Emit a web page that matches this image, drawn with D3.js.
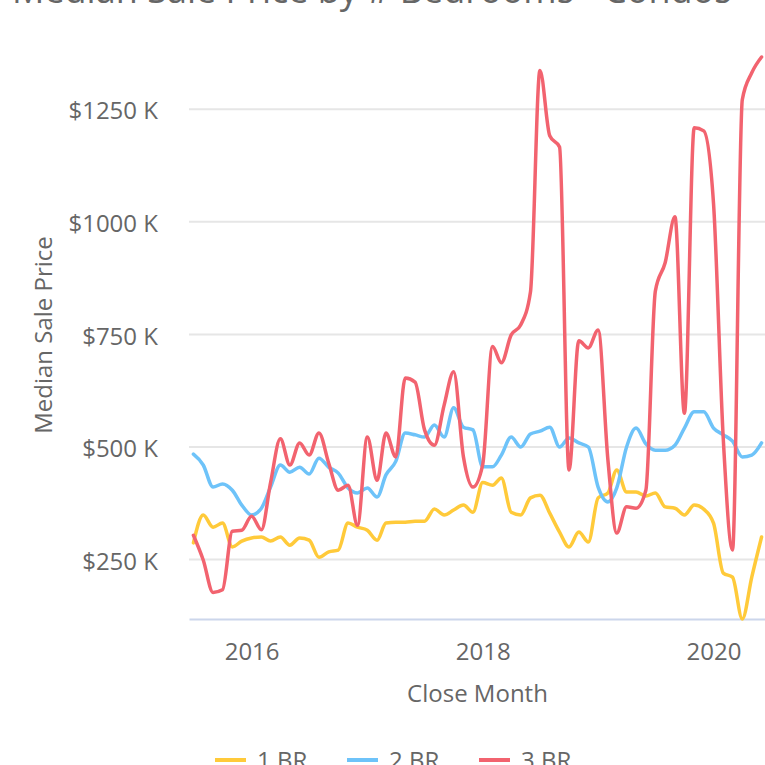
<!DOCTYPE html>
<html>
<head>
<meta charset="utf-8">
<script src="https://cdn.jsdelivr.net/npm/d3@7"></script>
<style>
    body { margin: 0; overflow: hidden; background: white; }
    text { font-family: "Open Sans", sans-serif; }
</style>
</head>
<body>
<svg id="chart"></svg>
<script>
//close months (first of month)
const MONTHS = [
    "2015-07", "2015-08", "2015-09", "2015-10", "2015-11", "2015-12",
    "2016-01", "2016-02", "2016-03", "2016-04", "2016-05", "2016-06",
    "2016-07", "2016-08", "2016-09", "2016-10", "2016-11", "2016-12",
    "2017-01", "2017-02", "2017-03", "2017-04", "2017-05", "2017-06",
    "2017-07", "2017-08", "2017-09", "2017-10", "2017-11", "2017-12",
    "2018-01", "2018-02", "2018-03", "2018-04", "2018-05", "2018-06",
    "2018-07", "2018-08", "2018-09", "2018-10", "2018-11", "2018-12",
    "2019-01", "2019-02", "2019-03", "2019-04", "2019-05", "2019-06",
    "2019-07", "2019-08", "2019-09", "2019-10", "2019-11", "2019-12",
    "2020-01", "2020-02", "2020-03", "2020-04", "2020-05", "2020-06"
];

//median sale price in $K
const ONE_BR = [
    286, 348, 321, 330, 277, 290,
    297, 299, 290, 299, 281, 297, 292, 254, 266, 270, 330, 321,
    314, 292, 330, 332, 332, 334, 334, 361, 348, 359, 370, 354,
    420, 414, 430, 354, 348, 386, 392, 352, 310, 277, 310, 288,
    386, 397, 448, 399, 399, 390, 397, 366, 363, 348, 370, 361,
    330, 219, 210, 117, 210, 299
];
const TWO_BR = [
    483, 459, 410, 417, 403, 370,
    348, 363, 410, 459, 443, 454, 439, 474, 454, 441, 408, 397,
    408, 388, 437, 467, 530, 526, 521, 548, 521, 586, 543, 537,
    455, 455, 481, 521, 499, 528, 534, 543, 499, 519, 508, 499,
    410, 377, 408, 499, 541, 506, 492, 492, 503, 541, 577, 577,
    541, 526, 512, 477, 481, 508
];
const THREE_BR = [
    303, 248, 176, 182, 312, 314,
    345, 315, 420, 517, 459, 508, 481, 530, 463, 403, 414, 325,
    521, 425, 530, 477, 652, 643, 537, 503, 592, 666, 477, 410,
    460, 722, 686, 748, 770, 843, 1335, 1190, 1165, 448, 735, 719,
    759, 470, 308, 366, 363, 403, 845, 908, 1010, 574, 1208, 1201,
    1040, 515, 270, 1270, 1330, 1365
];

const SERIES_NAMES = ["1 BR", "2 BR", "3 BR"];
const SERIES_COLORS = ["#ffca3a", "#6ec3f9", "#f2636f"];
const Y_TICKS = [250, 500, 750, 1000, 1250];
const X_TICKS = ["2016-01", "2018-01", "2020-01"];

const parseMonth = d3.utcParse("%Y-%m");

function drawChart() {
    const width = 765;
    const height = 765;
    const plot = { left: 189, right: 766, top: 57, bottom: 619 };

    const dates = MONTHS.map(parseMonth);
    const seriesValues = [ONE_BR, TWO_BR, THREE_BR];
    const series = SERIES_NAMES.map((name, i) => ({
        name: name,
        color: SERIES_COLORS[i],
        points: dates.map((d, j) => ({ date: d, value: seriesValues[i][j] }))
    }));

    const svg = d3.select("#chart")
        .attr("width", width)
        .attr("height", height);

    //x: half a month padding either side of the data
    const xScale = d3.scaleUtc()
        .domain([d3.utcDay.offset(dates[0], -14), d3.utcDay.offset(dates[dates.length - 1], 14)])
        .range([plot.left, plot.right]);

    const allValues = seriesValues.flat();
    const yScale = d3.scaleLinear()
        .domain(d3.extent(allValues))
        .range([plot.bottom, plot.top]);

    //title (sits mostly above the visible area)
    svg.append("text")
        .attr("x", 12)
        .attr("y", 3)
        .style("font-size", "36px")
        .style("fill", "#666")
        .text("Median Sale Price by # Bedrooms - Condos");

    //horizontal grid
    const grid = svg.append("g")
        .attr("transform", `translate(${plot.left},0)`);
    d3.axisLeft(yScale)
        .tickValues(Y_TICKS)
        .tickSize(-(plot.right - plot.left))
        .tickFormat("")(grid);
    grid.select(".domain").remove();
    grid.selectAll("line")
        .attr("stroke", "#e6e6e6")
        .attr("stroke-width", 2);

    //y labels
    const yAxisGroup = svg.append("g")
        .attr("transform", `translate(${plot.left},0)`);
    d3.axisLeft(yScale)
        .tickValues(Y_TICKS)
        .tickSize(0)
        .tickPadding(31)
        .tickFormat(d => "$" + d + " K")(yAxisGroup);
    yAxisGroup.select(".domain").remove();
    yAxisGroup.selectAll("text")
        .attr("dy", "0.42em")
        .style("font-size", "24px")
        .style("fill", "#666");

    //x axis
    const xAxisGroup = svg.append("g")
        .attr("transform", `translate(0,${plot.bottom})`);
    d3.axisBottom(xScale)
        .tickValues(X_TICKS.map(parseMonth))
        .tickSize(0)
        .tickPadding(24)
        .tickFormat(d3.utcFormat("%Y"))(xAxisGroup);
    xAxisGroup.select(".domain")
        .attr("stroke", "#ccd6eb")
        .attr("stroke-width", 2);
    xAxisGroup.selectAll("text")
        .style("font-size", "24px")
        .style("fill", "#666");

    //axis titles
    svg.append("text")
        .attr("x", (plot.left + plot.right) / 2)
        .attr("y", 702)
        .attr("text-anchor", "middle")
        .style("font-size", "24px")
        .style("fill", "#666")
        .text("Close Month");

    svg.append("text")
        .attr("transform", "rotate(-90)")
        .attr("x", -335)
        .attr("y", 52)
        .attr("text-anchor", "middle")
        .style("font-size", "24px")
        .style("fill", "#666")
        .text("Median Sale Price");

    //lines
    const line = d3.line()
        .x(d => xScale(d.date))
        .y(d => yScale(d.value))
        .curve(d3.curveMonotoneX);

    svg.append("g")
        .selectAll("path")
        .data(series)
        .enter()
        .append("path")
        .attr("d", d => line(d.points))
        .attr("fill", "none")
        .attr("stroke", d => d.color)
        .attr("stroke-width", 3.5)
        .attr("stroke-linejoin", "round")
        .attr("stroke-linecap", "round");

    //legend (cut off at the bottom edge)
    const legendX = [215, 347, 479];
    const legend = svg.append("g")
        .selectAll("g")
        .data(series)
        .enter()
        .append("g")
        .attr("transform", (d, i) => `translate(${legendX[i]},760)`);

    legend.append("line")
        .attr("x1", 0)
        .attr("x2", 31)
        .attr("stroke", d => d.color)
        .attr("stroke-width", 4);

    legend.append("text")
        .attr("x", 42)
        .attr("y", 9)
        .style("font-size", "24px")
        .style("fill", "#666")
        .text(d => d.name);
}

drawChart();
</script>
</body>
</html>
